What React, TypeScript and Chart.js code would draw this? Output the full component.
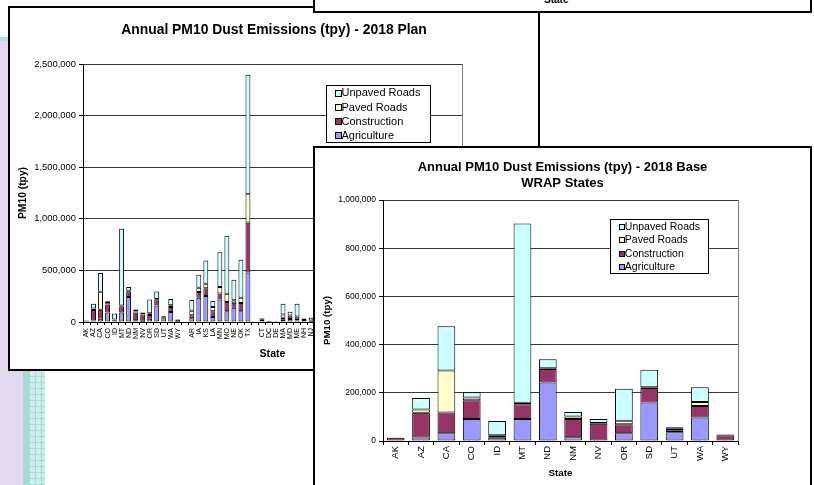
import React, { useEffect, useRef } from 'react';
import { Chart, registerables } from 'chart.js';

Chart.register(...registerables);

const FONT = "'Liberation Sans', Arial, Helvetica, sans-serif";

// ---------- data ----------
const seriesNames = ['Agriculture', 'Construction', 'Paved Roads', 'Unpaved Roads'];
const seriesColors = ['#9999FF', '#993366', '#FFFFCC', '#CCFFFF'];

const planTitle = 'Annual PM10 Dust Emissions (tpy) - 2018 Plan';
const baseTitle = ['Annual PM10 Dust Emissions (tpy) - 2018 Base', 'WRAP States'];
const yAxisTitle = 'PM10 (tpy)';
const xAxisTitle = 'State';

// 2018 Base - WRAP states
const baseStates = ['AK', 'AZ', 'CA', 'CO', 'ID', 'MT', 'ND', 'NM', 'NV', 'OR', 'SD', 'UT', 'WA', 'WY'];
const baseAgriculture = [0, 15000, 32000, 91000, 13000, 91000, 243000, 16000, 2000, 32000, 160000, 36000, 98000, 2000];
const baseConstruction = [14000, 102000, 86000, 78000, 8000, 61000, 56000, 75000, 70000, 37000, 60000, 9000, 47000, 22000];
const basePaved = [0, 14000, 175000, 12000, 3000, 7000, 3000, 11000, 3000, 15000, 3000, 6000, 17000, 1000];
const baseUnpaved = [1000, 47000, 183000, 21000, 59000, 744000, 37000, 18000, 16000, 133000, 73000, 6000, 61000, 2000];
const baseYMax = 1000000;
const baseYStep = 200000;

// 2018 Plan - all states, regional groups separated by an empty slot
const planStates = [
  'AK', 'AZ', 'CA', 'CO', 'ID', 'MT', 'ND', 'NM', 'NV', 'OR', 'SD', 'UT', 'WA', 'WY', '',
  'AR', 'IA', 'KS', 'LA', 'MN', 'MO', 'NE', 'OK', 'TX', '',
  'CT', 'DC', 'DE', 'MA', 'MD', 'ME', 'NH', 'NJ', 'NY', 'PA', 'RI', 'VT', '',
  'AL', 'FL', 'GA', 'KY', 'MS', 'NC', 'SC', 'TN', 'VA', 'WV', '',
  'IL', 'IN', 'MI', 'OH', 'WI',
];
const planAgriculture = [
  0, 15000, 32000, 91000, 13000, 91000, 243000, 16000, 2000, 32000, 160000, 36000, 98000, 2000, null,
  36000, 236000, 251000, 48000, 217000, 103000, 139000, 103000, 479000, null,
  5000, 1000, 2000, 21000, 30000, 15000, 5000, 3000, 60000, 70000, 1000, 8000, null,
  60000, 90000, 80000, 70000, 60000, 70000, 40000, 50000, 40000, 10000, null,
  250000, 150000, 100000, 150000, 90000,
];
const planConstruction = [
  14000, 102000, 86000, 78000, 8000, 61000, 56000, 75000, 70000, 37000, 60000, 9000, 47000, 22000, null,
  30000, 54000, 77000, 55000, 58000, 90000, 48000, 80000, 485000, null,
  18000, 3000, 3000, 19000, 32000, 16000, 15000, 12000, 40000, 60000, 3000, 6000, null,
  40000, 80000, 60000, 30000, 25000, 50000, 30000, 40000, 40000, 10000, null,
  60000, 40000, 50000, 60000, 30000,
];
const planPaved = [
  0, 14000, 175000, 12000, 3000, 7000, 3000, 11000, 3000, 15000, 3000, 6000, 17000, 1000, null,
  43000, 43000, 42000, 42000, 64000, 81000, 23000, 52000, 278000, null,
  10000, 4000, 3000, 32000, 37000, 22000, 12000, 25000, 60000, 70000, 4000, 5000, null,
  50000, 110000, 80000, 40000, 30000, 60000, 35000, 50000, 50000, 15000, null,
  90000, 50000, 70000, 80000, 40000,
];
const planUnpaved = [
  1000, 47000, 183000, 21000, 59000, 744000, 37000, 18000, 16000, 133000, 73000, 6000, 61000, 2000, null,
  105000, 126000, 226000, 58000, 338000, 561000, 200000, 368000, 1154000, null,
  5000, 1000, 2000, 104000, 3000, 123000, 5000, 4000, 90000, 150000, 1000, 40000, null,
  150000, 60000, 200000, 120000, 180000, 120000, 140000, 110000, 90000, 60000, null,
  120000, 80000, 100000, 90000, 110000,
];
const planYMax = 2500000;
const planYStep = 500000;

// ---------- plugin: plot-area right border + boxed legend inside plot ----------
const excelFrame = {
  id: 'excelFrame',
  beforeDatasetsDraw(chart: any) {
    const { ctx, chartArea: a } = chart;
    ctx.save();
    ctx.strokeStyle = '#808080';
    ctx.lineWidth = 1;
    ctx.beginPath();
    const x = Math.round(a.right) + 0.5;
    ctx.moveTo(x, a.top);
    ctx.lineTo(x, a.bottom);
    ctx.stroke();
    ctx.restore();
  },
  afterDatasetsDraw(chart: any, _args: any, o: any) {
    const { ctx, chartArea: a } = chart;
    const x = Math.round(a.left + o.left);
    const y = Math.round(a.top + o.top);
    ctx.save();
    ctx.fillStyle = '#fff';
    ctx.fillRect(x, y, o.width, o.height);
    ctx.strokeStyle = '#000';
    ctx.lineWidth = 1;
    ctx.strokeRect(x + 0.5, y + 0.5, o.width - 1, o.height - 1);
    const ds = chart.data.datasets.slice().reverse();
    ctx.font = `${o.fontSize}px ${FONT}`;
    ctx.textBaseline = 'middle';
    ctx.textAlign = 'left';
    ds.forEach((d: any, i: number) => {
      const cy = y + o.firstRow + i * o.rowGap;
      const sx = Math.round(x + o.swatchX);
      const sy = Math.round(cy - o.swatch / 2);
      ctx.fillStyle = d.backgroundColor;
      ctx.fillRect(sx, sy, o.swatch, o.swatch);
      ctx.strokeStyle = '#000';
      ctx.strokeRect(sx + 0.5, sy + 0.5, o.swatch - 1, o.swatch - 1);
      ctx.fillStyle = '#000';
      ctx.fillText(d.label, x + o.textX, cy);
    });
    ctx.restore();
  },
};

function makeConfig(labels: string[], series: (number | null)[][], yMax: number, yStep: number, L: any) {
  return {
    type: 'bar',
    data: {
      labels,
      datasets: series.map((d, i) => ({
        label: seriesNames[i],
        data: d,
        backgroundColor: seriesColors[i],
        borderColor: '#000',
        borderWidth: 1,
        borderSkipped: false,
        barPercentage: 0.7,
        categoryPercentage: 1,
      })),
    },
    options: {
      responsive: false,
      animation: false,
      events: [],
      devicePixelRatio: 1,
      layout: { padding: 0 },
      plugins: {
        legend: { display: false },
        tooltip: { enabled: false },
        title: {
          display: true,
          text: L.title,
          color: '#000',
          font: { family: FONT, size: L.titleSize, weight: 'bold', lineHeight: L.titleLineHeight },
          padding: { top: L.titlePadTop, bottom: L.titlePadBottom },
        },
        excelFrame: L.legend,
      },
      scales: {
        x: {
          stacked: true,
          offset: true,
          ticks: {
            autoSkip: false,
            minRotation: 90,
            maxRotation: 90,
            color: '#000',
            padding: L.xTickPad,
            font: { family: FONT, size: L.xTickSize },
          },
          grid: {
            display: true,
            offset: true,
            drawOnChartArea: false,
            drawTicks: true,
            tickLength: L.xTickLength,
            color: '#000',
            tickColor: '#000',
          },
          border: { display: true, color: '#000', width: 1 },
          title: {
            display: true,
            text: xAxisTitle,
            color: '#000',
            font: { family: FONT, size: L.xTitleSize, weight: 'bold', lineHeight: 1.2 },
            padding: { top: 0, bottom: L.xTitlePad },
          },
          afterFit: (s: any) => { s.height = L.xAxisHeight; },
        },
        y: {
          stacked: true,
          min: 0,
          max: yMax,
          ticks: {
            stepSize: yStep,
            color: '#000',
            padding: 3,
            font: { family: FONT, size: L.yTickSize },
            callback: (v: any) => Number(v).toLocaleString('en-US'),
          },
          grid: {
            color: '#3a3a3a',
            tickColor: '#000',
            drawTicks: true,
            tickLength: 4,
          },
          border: { display: true, color: '#000', width: 1 },
          title: {
            display: true,
            text: yAxisTitle,
            color: '#000',
            font: { family: FONT, size: L.yTitleSize, weight: 'bold', lineHeight: 1.2 },
            padding: { top: L.yTitlePad, bottom: 0 },
          },
          afterFit: (s: any) => { s.width = L.yAxisWidth; },
        },
        // empty right-hand margin (keeps the title centred on the whole window)
        rightMargin: {
          type: 'linear',
          position: 'right',
          display: true,
          grid: { display: false, drawTicks: false },
          ticks: { display: false },
          border: { display: false },
          title: { display: false },
          afterFit: (s: any) => { s.width = L.rightPad; },
        },
      },
    },
    plugins: [excelFrame],
  } as any;
}

const planLayout = {
  title: planTitle,
  titleSize: 13.9, titleLineHeight: 1.2, titlePadTop: 13.66, titlePadBottom: 25.66,
  yAxisWidth: 73, xAxisHeight: 47, rightPad: 76,
  yTickSize: 9.4, yTitleSize: 10.3, yTitlePad: 6.8,
  xTickSize: 7, xTickLength: 3, xTickPad: 3,
  xTitleSize: 10.6, xTitlePad: 8.6,
  legend: { left: 243, top: 21, width: 105, height: 58, firstRow: 8.3, rowGap: 14.2, swatchX: 8.5, swatch: 7, textX: 15.5, fontSize: 11 },
};

const baseLayout = {
  title: baseTitle,
  titleSize: 13, titleLineHeight: 1.25, titlePadTop: 10.9, titlePadBottom: 8.6,
  yAxisWidth: 68, xAxisHeight: 44, rightPad: 72,
  yTickSize: 8.5, yTitleSize: 9.7, yTitlePad: 6.2,
  xTickSize: 9.5, xTickLength: 4, xTickPad: 1,
  xTitleSize: 9.8, xTitlePad: 6.1,
  legend: { left: 227, top: 19, width: 99, height: 55, firstRow: 7.7, rowGap: 13.5, swatchX: 8.5, swatch: 6, textX: 14.8, fontSize: 10.5 },
};

function ChartCanvas({ build, width, height }: { build: () => any; width: number; height: number }) {
  const ref = useRef<HTMLCanvasElement | null>(null);
  useEffect(() => {
    if (!ref.current) return;
    const chart = new Chart(ref.current, build());
    return () => chart.destroy();
  }, []);
  return (
    <canvas
      ref={ref}
      width={width}
      height={height}
      style={{ position: 'absolute', left: 0, top: 0, width, height, display: 'block' }}
    />
  );
}

const win = (left: number, top: number, width: number, height: number): React.CSSProperties => ({
  position: 'absolute', left, top, width, height, boxSizing: 'border-box',
  border: '2px solid #000', background: '#fff', overflow: 'hidden',
});

export default function App() {
  return (
    <div style={{ position: 'absolute', left: 0, top: 0, width: 814, height: 485, overflow: 'hidden', background: '#fff', fontFamily: FONT }}>
      {/* slide background */}
      <div style={{ position: 'absolute', left: 0, top: 40, width: 23, height: 445, background: '#e2d9ee' }} />
      <div style={{ position: 'absolute', left: 0, top: 37, width: 45, height: 4, background: '#b3e2dc' }} />
      <div style={{
        position: 'absolute', left: 23, top: 40, width: 22, height: 445,
        background: 'repeating-linear-gradient(0deg, #a6dcd5 0 1px, transparent 1px 6px), repeating-linear-gradient(90deg, #a6dcd5 0 1px, transparent 1px 6px), #cdeeea',
      }} />
      <div style={{ position: 'absolute', left: 23, top: 40, width: 6, height: 445, background: '#a3dcd5' }} />

      {/* 2018 Plan window */}
      <div style={win(8, 6, 532, 365)}>
        <ChartCanvas
          width={528}
          height={361}
          build={() => makeConfig(planStates, [planAgriculture, planConstruction, planPaved, planUnpaved], planYMax, planYStep, planLayout)}
        />
      </div>

      {/* window peeking at the top */}
      <div style={win(313, -20, 499, 33)} />
      <div style={{ position: 'absolute', left: 544, top: -5, fontSize: 10, lineHeight: '10px', fontWeight: 'bold', color: '#000', whiteSpace: 'nowrap' }}>State</div>

      {/* 2018 Base window */}
      <div style={win(313, 146, 499, 360)}>
        <ChartCanvas
          width={495}
          height={337}
          build={() => makeConfig(baseStates, [baseAgriculture, baseConstruction, basePaved, baseUnpaved], baseYMax, baseYStep, baseLayout)}
        />
      </div>
    </div>
  );
}
